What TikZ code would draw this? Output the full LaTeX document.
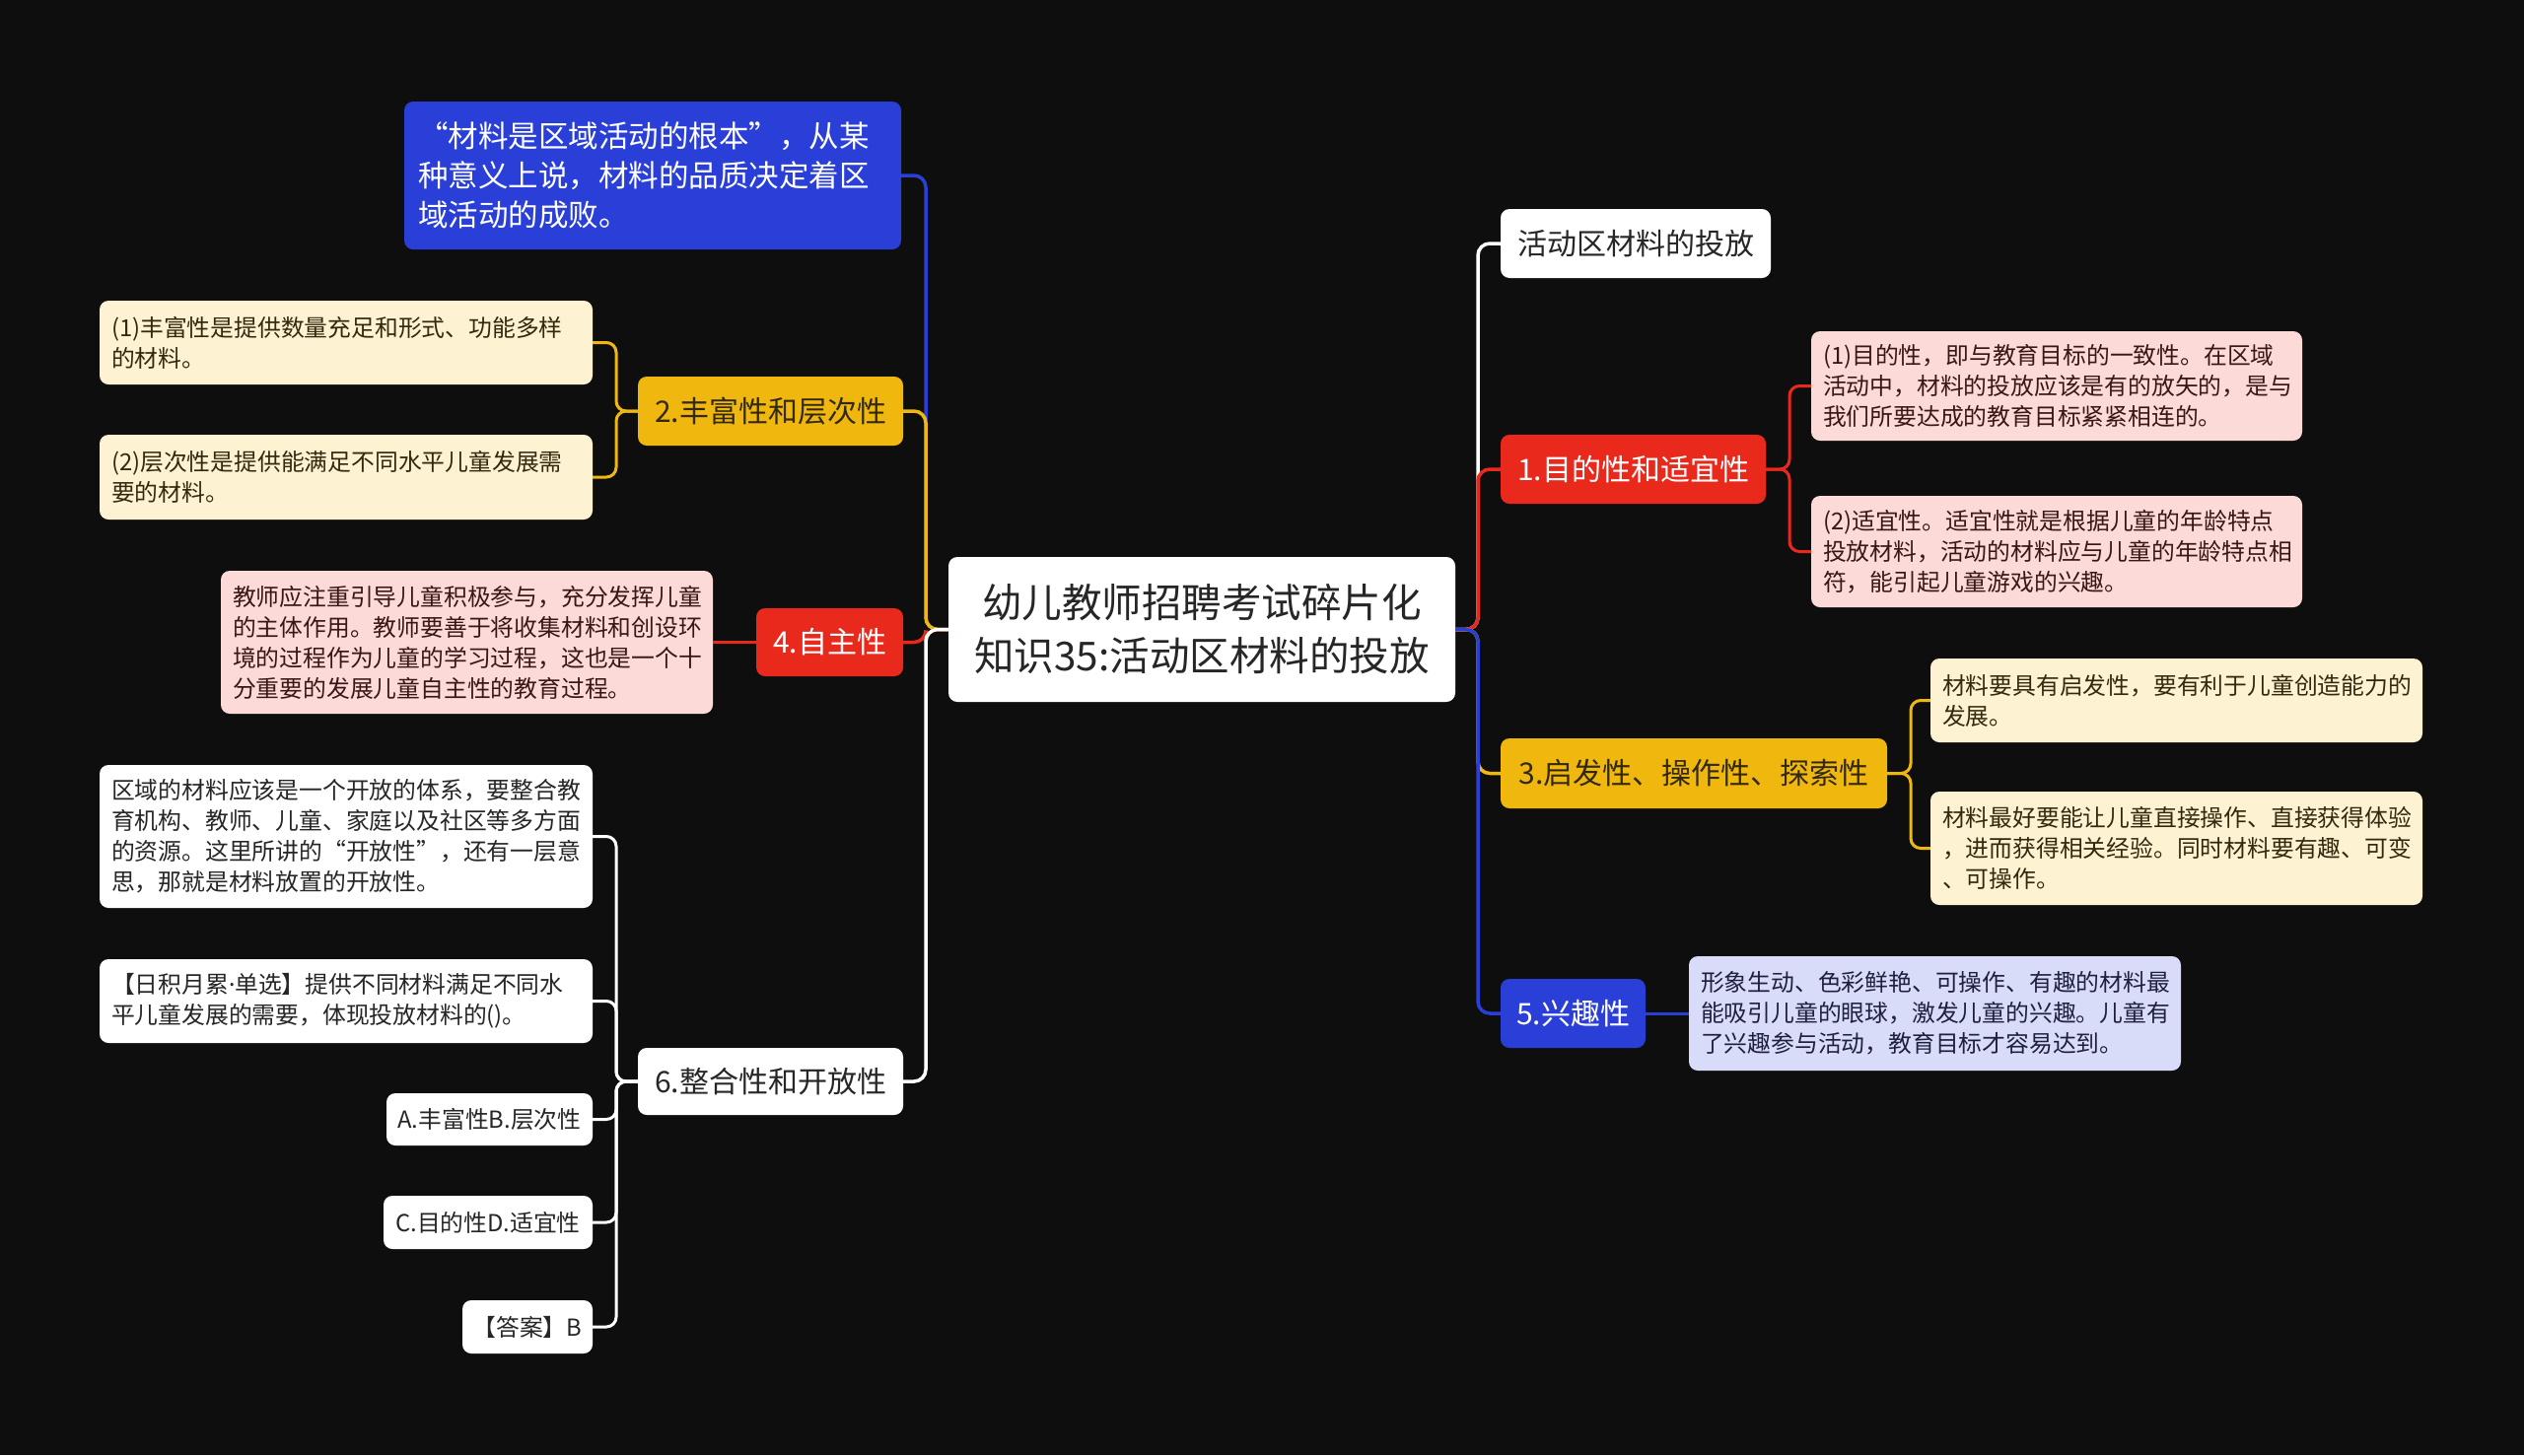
\documentclass[tikz,border=0pt]{standalone}
\usepackage{fontspec}
\setmainfont{Noto Sans CJK SC}
\newfontfamily\latinf{Noto Sans}
\definecolor{bg}{HTML}{0E0E0E}
\definecolor{cblue}{HTML}{2A3FD8}
\definecolor{cred}{HTML}{E8291C}
\definecolor{cyellow}{HTML}{F0B80F}
\definecolor{ccream}{HTML}{FDF3D2}
\definecolor{cpink}{HTML}{FBDAD7}
\definecolor{clav}{HTML}{D8DCF8}
\definecolor{tdark}{HTML}{262626}
\definecolor{tbrown}{HTML}{33290F}
\definecolor{tmaroon}{HTML}{3A1616}
\definecolor{tnavy}{HTML}{1F2040}
\begin{document}
\begin{tikzpicture}[x=1pt,y=-1pt,
  base/.style={rounded corners=9pt, inner ysep=0pt, inner xsep=0pt, align=center},
  topic/.style={base, font=\fontsize{30}{40}\selectfont},
  detail/.style={base, inner xsep=12pt, align=left, font=\fontsize{23.8}{31}\selectfont},
  link/.style={line width=3.5pt, rounded corners=12pt},
  sublink/.style={line width=3pt, rounded corners=10pt},
]
\useasboundingbox (0,0) rectangle (2560,1476);
\fill[bg] (0,0) rectangle (2560,1476);

% central
\node[base, fill=white, text=tdark, font=\fontsize{40.5}{54}\selectfont,
  minimum width=514pt, minimum height=147pt] (C) at (1219,638.5)
  {幼儿教师招聘考试碎片化\\知识35:活动区材料的投放};

% left side
\node[detail, fill=cblue, text=white, font=\fontsize{30.5}{40}\selectfont,
  inner xsep=14pt, text width=476pt, minimum height=150pt] (B0) at (662,178)
  {“材料是区域活动的根本”，从某\\种意义上说，材料的品质决定着区\\域活动的成败。};
\node[topic, fill=cyellow, text=tbrown, minimum width=269pt, minimum height=70pt] (N2) at (781.5,417) {2.丰富性和层次性};
\node[topic, fill=cred, text=white, minimum width=149pt, minimum height=69pt] (N4) at (841.5,651.5) {4.自主性};
\node[topic, fill=white, text=tdark, minimum width=269pt, minimum height=68pt] (N6) at (781.5,1097) {6.整合性和开放性};

\node[detail, fill=ccream, text=tbrown, text width=476pt, minimum height=85pt] (L2a) at (351,347.5)
  {(1)丰富性是提供数量充足和形式、功能多样\\的材料。};
\node[detail, fill=ccream, text=tbrown, text width=476pt, minimum height=86pt] (L2b) at (351,484)
  {(2)层次性是提供能满足不同水平儿童发展需\\要的材料。};
\node[detail, fill=cpink, text=tmaroon, text width=475pt, minimum height=145pt] (L4a) at (473.5,651.5)
  {教师应注重引导儿童积极参与，充分发挥儿童\\的主体作用。教师要善于将收集材料和创设环\\境的过程作为儿童的学习过程，这也是一个十\\分重要的发展儿童自主性的教育过程。};
\node[detail, fill=white, text=tdark, text width=476pt, minimum height=145pt] (L6a) at (351,848.5)
  {区域的材料应该是一个开放的体系，要整合教\\育机构、教师、儿童、家庭以及社区等多方面\\的资源。这里所讲的“开放性”，还有一层意\\思，那就是材料放置的开放性。};
\node[detail, fill=white, text=tdark, text width=476pt, minimum height=85pt] (L6b) at (351,1015.5)
  {【日积月累{\latinf ·}单选】提供不同材料满足不同水\\平儿童发展的需要，体现投放材料的()。};
\node[detail, fill=white, text=tdark, align=center, inner xsep=0pt, minimum width=209pt, minimum height=53pt] (L6c) at (496.5,1135.5)
  {A.丰富性B.层次性};
\node[detail, fill=white, text=tdark, align=center, inner xsep=0pt, minimum width=212pt, minimum height=54pt] (L6d) at (495,1240)
  {C.目的性D.适宜性};
\node[detail, fill=white, text=tdark, align=center, inner xsep=0pt, minimum width=132pt, minimum height=54pt] (L6e) at (535,1346)
  {【答案】B};

% right side
\node[topic, fill=white, text=tdark, minimum width=274pt, minimum height=70pt] (R0) at (1659,247) {活动区材料的投放};
\node[topic, fill=cred, text=white, minimum width=269pt, minimum height=70pt] (R1) at (1656.5,476) {1.目的性和适宜性};
\node[topic, fill=cyellow, text=tbrown, minimum width=392pt, minimum height=71pt] (R3) at (1718,784.5) {3.启发性、操作性、探索性};
\node[topic, fill=cblue, text=white, minimum width=147pt, minimum height=70pt] (R5) at (1595.5,1028) {5.兴趣性};

\node[detail, fill=cpink, text=tmaroon, text width=474pt, minimum height=111pt] (R1a) at (2086,391.5)
  {(1)目的性，即与教育目标的一致性。在区域\\活动中，材料的投放应该是有的放矢的，是与\\我们所要达成的教育目标紧紧相连的。};
\node[detail, fill=cpink, text=tmaroon, text width=474pt, minimum height=113pt] (R1b) at (2086,559.5)
  {(2)适宜性。适宜性就是根据儿童的年龄特点\\投放材料，活动的材料应与儿童的年龄特点相\\符，能引起儿童游戏的兴趣。};
\node[detail, fill=ccream, text=tbrown, text width=475pt, minimum height=85pt] (R3a) at (2207.5,710.5)
  {材料要具有启发性，要有利于儿童创造能力的\\发展。};
\node[detail, fill=ccream, text=tbrown, text width=475pt, minimum height=115pt] (R3b) at (2207.5,860.5)
  {材料最好要能让儿童直接操作、直接获得体验\\，进而获得相关经验。同时材料要有趣、可变\\、可操作。};
\node[detail, fill=clav, text=tnavy, text width=475pt, minimum height=116pt] (R5a) at (1962.5,1028)
  {形象生动、色彩鲜艳、可操作、有趣的材料最\\能吸引儿童的眼球，激发儿童的兴趣。儿童有\\了兴趣参与活动，教育目标才容易达到。};

% trunk points
\coordinate (LT) at (939,638.5);
\coordinate (RT) at (1499,638.5);
\coordinate (S2) at (625,417);
\coordinate (S6) at (625,1097);
\coordinate (S1) at (1815,476);
\coordinate (S3) at (1938,784.5);

% left main connectors
\draw[link, cblue] (C.west) -- (LT) |- (B0.east);
\draw[link, cyellow] (C.west) -- (LT) |- (N2.east);
\draw[link, cred] (C.west) -- (LT) |- (N4.east);
\draw[link, white] (C.west) -- (LT) |- (N6.east);

% right main connectors
\draw[link, white] (C.east) -- (RT) |- (R0.west);
\draw[link, cred] (C.east) -- (RT) |- (R1.west);
\draw[link, cyellow] (C.east) -- (RT) |- (R3.west);
\draw[link, cblue] (C.east) -- (RT) |- (R5.west);

% sub connectors
\draw[sublink, cyellow] (N2.west) -- (S2) |- (L2a.east);
\draw[sublink, cyellow] (N2.west) -- (S2) |- (L2b.east);
\draw[sublink, cred] (N4.west) -- (L4a.east);
\foreach \n in {L6a,L6b,L6c,L6d,L6e}
  \draw[sublink, white] (N6.west) -- (S6) |- (\n.east);
\draw[sublink, cred] (R1.east) -- (S1) |- (R1a.west);
\draw[sublink, cred] (R1.east) -- (S1) |- (R1b.west);
\draw[sublink, cyellow] (R3.east) -- (S3) |- (R3a.west);
\draw[sublink, cyellow] (R3.east) -- (S3) |- (R3b.west);
\draw[sublink, cblue] (R5.east) -- (R5a.west);
\end{tikzpicture}
\end{document}
